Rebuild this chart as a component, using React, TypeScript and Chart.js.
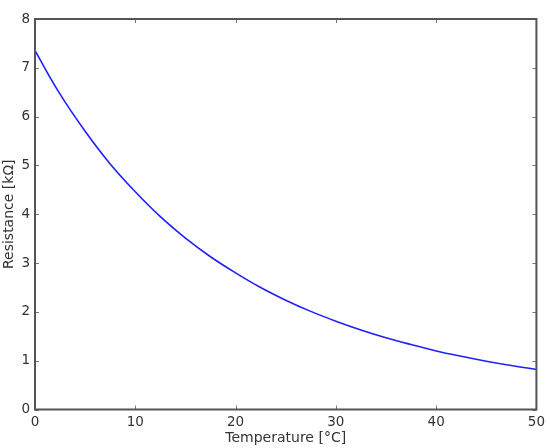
import React, { useEffect, useRef } from "react";
import { Chart, registerables } from "chart.js";

Chart.register(...registerables);

const temperatures = [0, 2.5, 5, 7.5, 10, 12.5, 15, 17.5, 20, 22.5, 25, 27.5, 30, 32.5, 35, 37.5, 40, 42.5, 45, 47.5, 50];
const resistances = [7.35, 6.46, 5.70, 5.03, 4.46, 3.95, 3.51, 3.13, 2.80, 2.50, 2.24, 2.01, 1.81, 1.63, 1.47, 1.33, 1.20, 1.09, 0.99, 0.90, 0.82];
const xTicks = [0, 10, 20, 30, 40, 50];
const yTicks = [0, 1, 2, 3, 4, 5, 6, 7, 8];
const xTitle = "Temperature [°C]";
const yTitle = "Resistance [kΩ]";

const framePlugin = {
  id: "frame",
  afterDraw(chart: any) {
    const { ctx, chartArea, scales } = chart;
    const { left, right, top, bottom } = chartArea;
    const len = 4;
    ctx.save();
    ctx.strokeStyle = "#777";
    ctx.lineWidth = 1;
    ctx.beginPath();
    for (const v of xTicks) {
      const px = Math.round(scales.x.getPixelForValue(v)) + 0.5;
      ctx.moveTo(px, bottom);
      ctx.lineTo(px, bottom - len);
      ctx.moveTo(px, top);
      ctx.lineTo(px, top + len);
    }
    for (const v of yTicks) {
      const py = Math.round(scales.y.getPixelForValue(v)) + 0.5;
      ctx.moveTo(left, py);
      ctx.lineTo(left + len, py);
      ctx.moveTo(right, py);
      ctx.lineTo(right - len, py);
    }
    ctx.stroke();
    ctx.lineWidth = 2;
    ctx.strokeStyle = "#555";
    ctx.strokeRect(left, top, right - left, bottom - top);
    ctx.restore();
  },
};

export default function App() {
  const ref = useRef<HTMLCanvasElement>(null);
  useEffect(() => {
    if (!ref.current) return;
    const tickFont = { family: "'DejaVu Sans', sans-serif", size: 13.5 };
    const titleFont = { family: "'DejaVu Sans', sans-serif", size: 14 };
    const chart = new Chart(ref.current, {
      type: "scatter",
      data: {
        datasets: [
          {
            data: temperatures.map((t, i) => ({ x: t, y: resistances[i] })),
            showLine: true,
            borderColor: "#2020ff",
            borderWidth: 1.6,
            pointRadius: 0,
            tension: 0.4,
            fill: false,
          },
        ],
      },
      options: {
        animation: false,
        responsive: false,
        maintainAspectRatio: false,
        layout: { padding: { top: 19, right: 10, left: 0, bottom: 0 } },
        plugins: { legend: { display: false }, tooltip: { enabled: false } },
        scales: {
          x: {
            type: "linear",
            min: 0,
            max: 50,
            afterBuildTicks: (s: any) => {
              s.ticks = xTicks.map((v) => ({ value: v }));
            },
            afterFit: (s: any) => {
              s.height = 38.5;
            },
            grid: { display: false, drawTicks: false },
            border: { display: false },
            ticks: { font: tickFont, color: "#333", padding: 5, maxRotation: 0 },
            title: { display: true, text: xTitle, font: titleFont, color: "#333", padding: { top: 0, bottom: 1 } },
          },
          y: {
            type: "linear",
            min: 0,
            max: 8,
            afterBuildTicks: (s: any) => {
              s.ticks = yTicks.map((v) => ({ value: v }));
            },
            afterFit: (s: any) => {
              s.width = 35;
            },
            grid: { display: false, drawTicks: false },
            border: { display: false },
            ticks: { font: tickFont, color: "#333", padding: 5 },
            title: { display: true, text: yTitle, font: titleFont, color: "#333", padding: { top: 1, bottom: 0 } },
          },
        },
      },
      plugins: [framePlugin],
    });
    return () => chart.destroy();
  }, []);
  return (
    <div style={{ position: "absolute", left: 0, top: 0, width: 550, height: 448, background: "#fff" }}>
      <canvas ref={ref} width={550} height={448} style={{ width: 550, height: 448, display: "block" }} />
    </div>
  );
}
